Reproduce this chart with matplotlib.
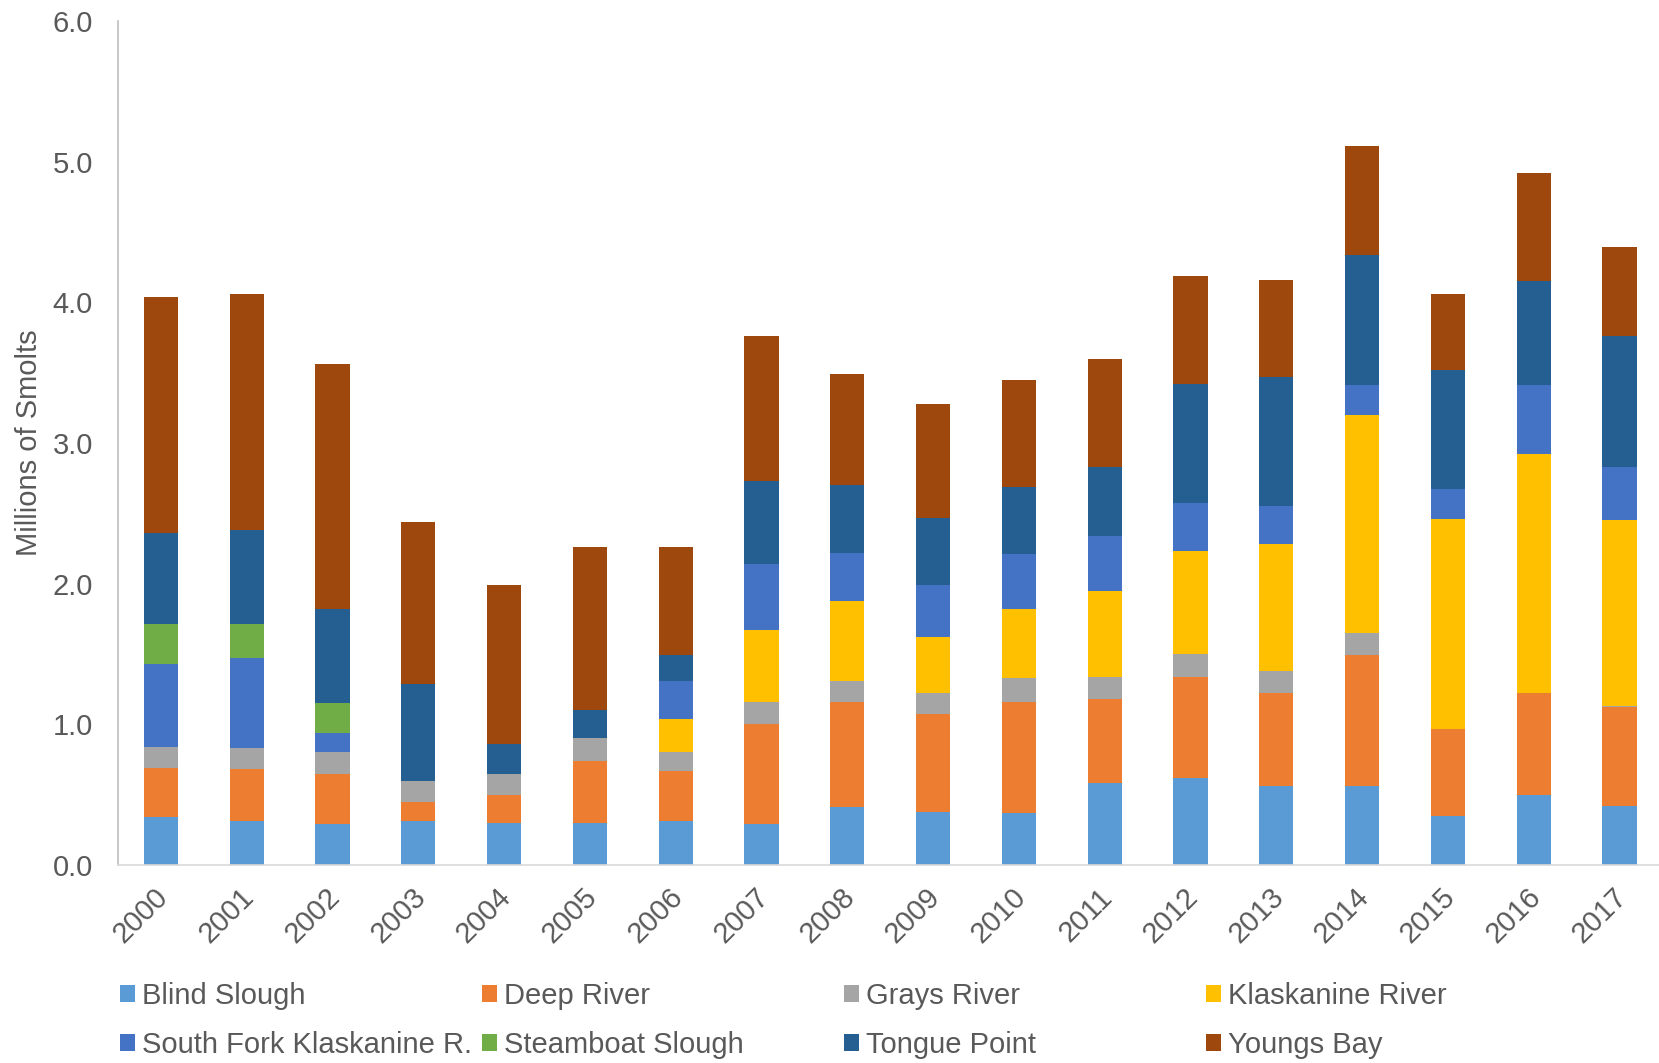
import matplotlib
matplotlib.use("Agg")
import matplotlib.pyplot as plt
import matplotlib.transforms as mtransforms
import numpy as np

plt.rcParams['font.family'] = ['Liberation Sans', 'DejaVu Sans']

years = [str(y) for y in range(2000, 2018)]
series_names = ["Blind Slough", "Deep River", "Grays River", "Klaskanine River",
                "South Fork Klaskanine R.", "Steamboat Slough", "Tongue Point", "Youngs Bay"]

blind_slough = [0.34, 0.31, 0.29, 0.31, 0.30, 0.30, 0.31, 0.29, 0.41, 0.38, 0.37, 0.58, 0.62, 0.56, 0.56, 0.35, 0.50, 0.42]
deep_river   = [0.35, 0.37, 0.36, 0.14, 0.20, 0.44, 0.36, 0.71, 0.75, 0.69, 0.79, 0.60, 0.72, 0.66, 0.93, 0.62, 0.72, 0.70]
grays_river  = [0.15, 0.15, 0.15, 0.15, 0.15, 0.16, 0.13, 0.16, 0.15, 0.15, 0.17, 0.16, 0.16, 0.16, 0.16, 0.00, 0.00, 0.01]
klaskanine   = [0.00, 0.00, 0.00, 0.00, 0.00, 0.00, 0.24, 0.51, 0.57, 0.40, 0.49, 0.61, 0.73, 0.90, 1.55, 1.49, 1.70, 1.32]
sf_klaskanine= [0.59, 0.64, 0.14, 0.00, 0.00, 0.00, 0.27, 0.47, 0.34, 0.37, 0.39, 0.39, 0.34, 0.27, 0.21, 0.21, 0.49, 0.38]
steamboat    = [0.28, 0.24, 0.21, 0.00, 0.00, 0.00, 0.00, 0.00, 0.00, 0.00, 0.00, 0.00, 0.00, 0.00, 0.00, 0.00, 0.00, 0.00]
tongue_point = [0.65, 0.67, 0.67, 0.69, 0.21, 0.20, 0.18, 0.59, 0.48, 0.48, 0.48, 0.49, 0.85, 0.92, 0.93, 0.85, 0.74, 0.93]
youngs_bay   = [1.68, 1.68, 1.74, 1.15, 1.13, 1.16, 0.77, 1.03, 0.79, 0.81, 0.76, 0.77, 0.77, 0.69, 0.77, 0.54, 0.77, 0.63]

series = [blind_slough, deep_river, grays_river, klaskanine, sf_klaskanine, steamboat, tongue_point, youngs_bay]
colors = ["#5B9BD5", "#ED7D31", "#A5A5A5", "#FFC000", "#4472C4", "#70AD47", "#255E91", "#9E480E"]

W, H = 1659, 1063
FS = 21
fig = plt.figure(figsize=(W/100, H/100), dpi=100)
ax = fig.add_axes([118/W, (H-865)/H, (W-118)/W, (865-21)/H])

x = np.arange(len(years))
bottom = np.zeros(len(years))
handles = []
for vals, c, name in zip(series, colors, series_names):
    v = np.array(vals)
    b = ax.bar(x, v, width=0.4, bottom=bottom, color=c, label=name, linewidth=0)
    handles.append(b)
    bottom += v

ax.set_xlim(-0.5, -0.5 + (W-118)/85.8)
ax.set_ylim(0, 6.0)
ax.set_yticks(np.arange(0, 6.01, 1.0))
ax.set_yticklabels([f"{t:.1f}" for t in np.arange(0, 6.01, 1.0)])
ax.set_xticks(x)
ax.set_xticklabels(years, rotation=45, ha='right', va='top', rotation_mode='anchor')
ax.tick_params(axis='both', length=0, labelsize=FS, colors='#595959')
ax.tick_params(axis='y', pad=18)
ax.tick_params(axis='x', pad=13)
offset = mtransforms.ScaledTranslation(-7/100, 0, fig.dpi_scale_trans)
for lab in ax.get_xticklabels():
    lab.set_transform(lab.get_transform() + offset)

for s in ['top', 'right']:
    ax.spines[s].set_visible(False)
ax.spines['left'].set_color('#BFBFBF')
ax.spines['left'].set_linewidth(1.2)
ax.spines['bottom'].set_color('#D9D9D9')
ax.spines['bottom'].set_linewidth(1.2)

fig.text(29/W, 1 - 443/H, "Millions of Smolts", rotation=90, ha='center', va='center',
         fontsize=FS, color='#595959')

# legend: 4 columns, 2 rows (row-major order as in reference)
col_x = [120, 482, 844, 1206]
for c in range(4):
    hs = [handles[c], handles[c + 4]]
    ls = [series_names[c], series_names[c + 4]]
    fig.legend(hs, ls, loc='upper left', bbox_to_anchor=(col_x[c]/W, 1 - 982/H),
               frameon=False, fontsize=FS, handlelength=0.52, handleheight=0.52,
               handletextpad=0.25, labelspacing=0.72, borderpad=0, borderaxespad=0,
               labelcolor='#595959')

fig.savefig("out.png", dpi=100, facecolor='white')
